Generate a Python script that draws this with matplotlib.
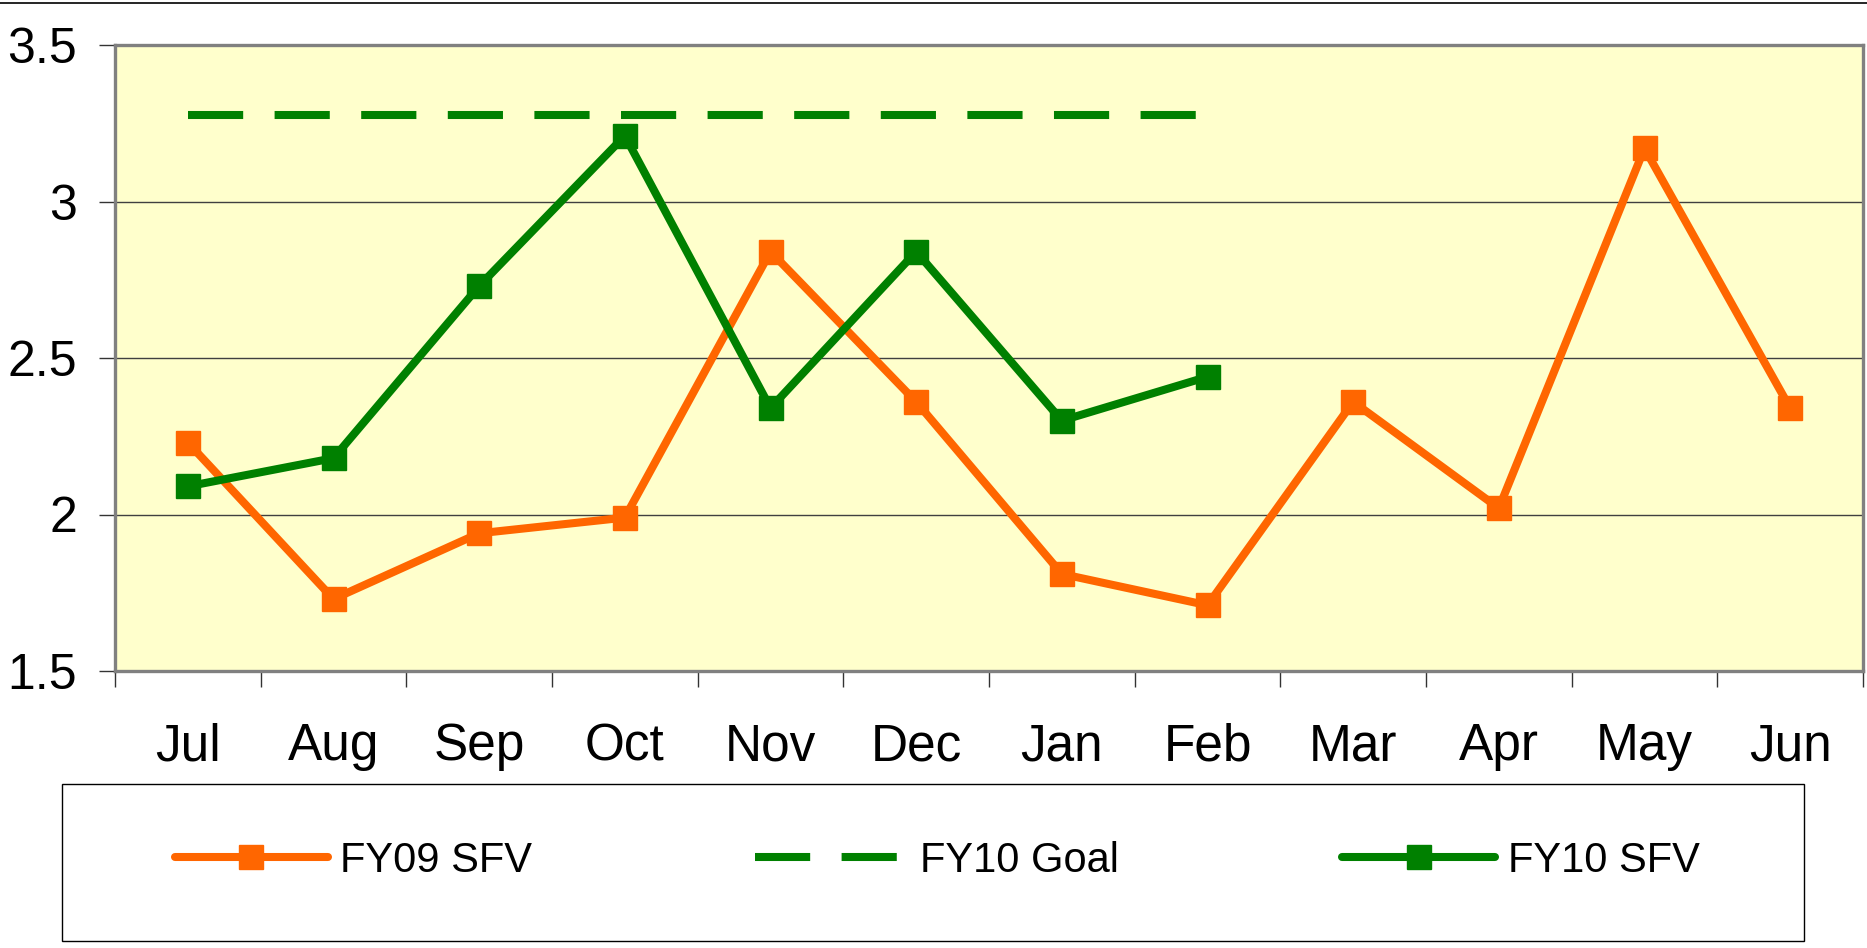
import matplotlib
matplotlib.use("Agg")
import matplotlib.pyplot as plt
from matplotlib.lines import Line2D
from matplotlib.patches import Rectangle

months = ["Jul", "Aug", "Sep", "Oct", "Nov", "Dec", "Jan", "Feb", "Mar", "Apr", "May", "Jun"]
fy09_sfv = [2.23, 1.73, 1.94, 1.99, 2.84, 2.36, 1.81, 1.71, 2.36, 2.02, 3.17, 2.34]
fy10_goal = [3.275] * 8
fy10_sfv = [2.09, 2.18, 2.73, 3.21, 2.34, 2.84, 2.30, 2.44]
y_ticks = [1.5, 2, 2.5, 3, 3.5]
y_labels = ["1.5", "2", "2.5", "3", "3.5"]

ORANGE = "#FF6600"
GREEN = "#008000"

plt.rcParams['font.family'] = ['Liberation Sans', 'DejaVu Sans']

W, H = 1867, 948
fig = plt.figure(figsize=(W / 100, H / 100), dpi=100)
left, right, top, bottom = 115, 1863, 45, 671
ax = fig.add_axes([left / W, 1 - bottom / H, (right - left) / W, (bottom - top) / H])
ax.set_facecolor("#FFFFCC")

x = list(range(len(months)))
lw = 5.8
ms = 17
ax.plot(x, fy09_sfv, color=ORANGE, lw=lw, marker="s", ms=ms, mec=ORANGE, mfc=ORANGE, zorder=4,
        solid_joinstyle="round", solid_capstyle="round", label="FY09 SFV")
ax.plot(x[:len(fy10_goal)], fy10_goal, color=GREEN, lw=5.8, dashes=(6.85, 3.9), dash_capstyle="butt",
        zorder=3, label="FY10 Goal")
ax.plot(x[:len(fy10_sfv)], fy10_sfv, color=GREEN, lw=lw, marker="s", ms=ms, mec=GREEN, mfc=GREEN, zorder=5,
        solid_joinstyle="round", solid_capstyle="round", label="FY10 SFV")

ax.set_xlim(-0.5, len(months) - 0.5)
ax.set_ylim(1.5, 3.5)

# grid lines
for yv in y_ticks[1:-1]:
    ax.axhline(yv, color="#404040", lw=1.0, zorder=1)

ax.set_yticks(y_ticks)
ax.set_yticklabels(y_labels)
ax.set_xticks([i - 0.5 for i in range(len(months) + 1)])
ax.set_xticklabels([])
ax.set_xticks(x, minor=True)
ax.set_xticklabels(months, minor=True)
ax.tick_params(axis="x", which="major", length=11.5, width=1.0, color="#333333", direction="out")
ax.tick_params(axis="x", which="minor", length=0, pad=37, labelsize=37)
ax.tick_params(axis="y", which="major", length=11.5, width=1.0, color="#333333", direction="out",
               pad=16, labelsize=36)

for s in ax.spines.values():
    s.set_color("#808080")
    s.set_linewidth(2.4)

# top border line of the figure
fig.add_artist(Line2D([0, 1], [1 - 3 / H, 1 - 3 / H], transform=fig.transFigure, color="black", lw=1.2))

# legend frame
lx0, lx1, ly0, ly1 = 62, 1804, 784, 941
fig.add_artist(Rectangle((lx0 / W, 1 - ly1 / H), (lx1 - lx0) / W, (ly1 - ly0) / H,
                         transform=fig.transFigure, facecolor="white", edgecolor="black", lw=1.0, zorder=0))

handles, labels = ax.get_legend_handles_labels()
leg = fig.legend(handles, labels, loc="center", bbox_to_anchor=(937 / W, 1 - 861 / H), ncol=3,
                 frameon=False, fontsize=30, handlelength=3.67, handletextpad=0.3, columnspacing=5.35,
                 markerscale=1.0)

fig.savefig("out.png", dpi=100)
